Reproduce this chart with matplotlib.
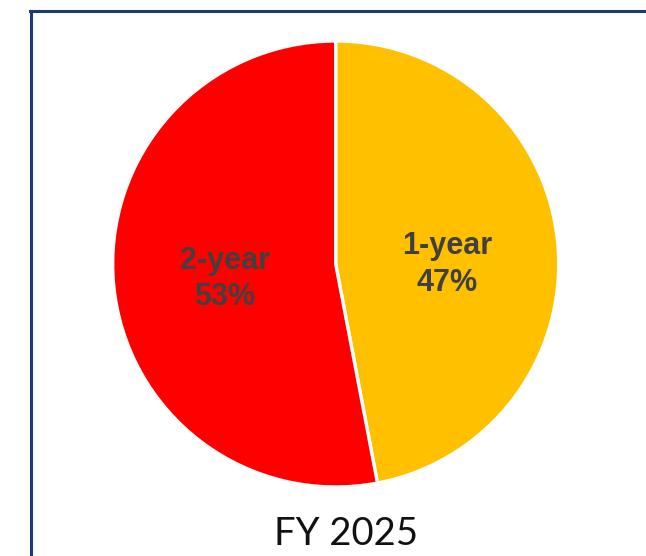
import matplotlib
matplotlib.use("Agg")
import matplotlib.pyplot as plt
from matplotlib.lines import Line2D

# Share of contracts by term length
categories = ["1-year", "2-year"]
shares = [47, 53]
colors = ["#FFC000", "#FF0000"]
title = "FY 2025"

W, H = 646, 556
fig = plt.figure(figsize=(W / 100, H / 100), dpi=100)
fig.patch.set_facecolor("white")

# Pie axes: centre and radius in pixels
cx, cy, R = 335.7, 264.0, 223.0
ax = fig.add_axes([(cx - R) / W, (H - cy - R) / H, 2 * R / W, 2 * R / H])

labels = [f"{c}\n{v}%" for c, v in zip(categories, shares)]
wedges, texts = ax.pie(
    shares,
    colors=colors,
    startangle=90,
    counterclock=False,
    radius=1.0,
    labels=labels,
    labeldistance=0.5,
    wedgeprops=dict(edgecolor="white", linewidth=2.4),
    textprops=dict(fontsize=22, fontweight="bold", color="#404040",
                   family=["Liberation Sans", "DejaVu Sans"],
                   ha="center", va="center", linespacing=1.3),
)
ax.set_xlim(-1, 1)
ax.set_ylim(-1, 1)
ax.set_aspect("equal")
ax.axis("off")
for w in wedges:
    w.set_clip_on(False)
for t in texts:
    t.set_horizontalalignment("center")
    t.set_verticalalignment("center")
# nudge the 1-year label slightly lower
x0, y0 = texts[0].get_position()
texts[0].set_position((x0, y0 - 0.05))
# nudge the 2-year label slightly lower
x1, y1 = texts[1].get_position()
texts[1].set_position((x1, y1 - 0.02))

# Frame around the chart area (open at right and bottom edges)
navy = "#1F3A73"
fig.add_artist(Line2D([31 / W, 31 / W], [0, 1 - 10.5 / H],
                      transform=fig.transFigure, color=navy, linewidth=2.2))
fig.add_artist(Line2D([30 / W, 1], [1 - 10.5 / H, 1 - 10.5 / H],
                      transform=fig.transFigure, color=navy, linewidth=2.2))

fig.text(346.5 / W, 11 / H, title, ha="center", va="baseline",
         fontsize=27.5, color="#111111", family=["Lato", "DejaVu Sans"])

fig.savefig("out.png", dpi=100, facecolor="white")
